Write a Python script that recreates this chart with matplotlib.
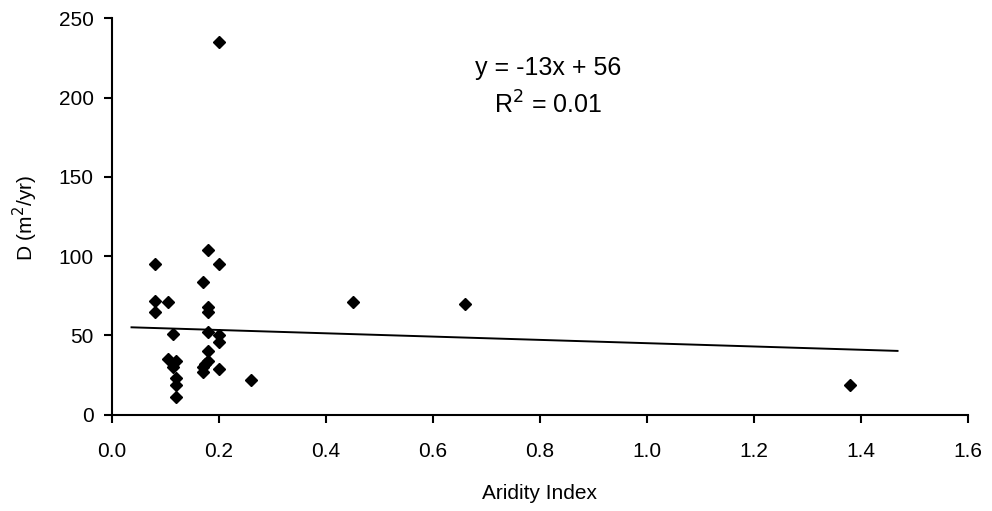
import matplotlib
matplotlib.use("Agg")
import matplotlib.pyplot as plt
import numpy as np

plt.rcParams['font.family'] = ['Liberation Sans', 'DejaVu Sans']

aridity = [0.08, 0.18, 0.20, 0.17, 0.08, 0.105, 0.08, 0.18, 0.18, 0.115,
           0.18, 0.20, 0.20, 0.105, 0.12, 0.115, 0.12, 0.12, 0.12, 0.18,
           0.18, 0.17, 0.17, 0.175, 0.20, 0.26, 0.20, 0.45, 0.66, 1.38]
D_vals = [95, 104, 95, 84, 72, 71, 65, 68, 65, 51,
          52, 50, 46, 35, 34, 30, 23, 19, 11, 40,
          34, 30, 27, 32, 29, 22, 235, 71, 70, 19]

trend_slope = -10.4
trend_intercept = 55.5
trend_x = [0.037, 1.468]

eq_text = "y = -13x + 56"
r2_text = "R$^2$ = 0.01"

xticks = [0.0, 0.2, 0.4, 0.6, 0.8, 1.0, 1.2, 1.4, 1.6]
yticks = [0, 50, 100, 150, 200, 250]

fig = plt.figure(figsize=(9.92, 5.11), dpi=100)
ax = fig.add_axes([0.1126, 0.1885, 0.976 - 0.1126, 0.964 - 0.1885])

ax.plot(aridity, D_vals, linestyle='none', marker='D', markersize=6.6,
        color='black', zorder=3)
tx = np.array(trend_x)
ax.plot(tx, trend_slope * tx + trend_intercept, color='black', lw=1.4, zorder=2)

ax.set_xlim(0, 1.6)
ax.set_ylim(0, 250)
ax.set_xticks(xticks)
ax.set_xticklabels([f"{v:.1f}" for v in xticks])
ax.set_yticks(yticks)
ax.set_yticklabels([str(v) for v in yticks])

for s in ['top', 'right']:
    ax.spines[s].set_visible(False)
for s in ['left', 'bottom']:
    ax.spines[s].set_linewidth(1.5)
ax.tick_params(direction='out', length=6, width=1.5, labelsize=15)
ax.tick_params(axis='y', pad=7)
ax.tick_params(axis='x', pad=14)

fig.text(25 / 992, 1 - 218 / 511, "D (m$^2$/yr)", rotation=90,
         ha='center', va='center', fontsize=15)
fig.text(540 / 992, 1 - 493 / 511, "Aridity Index",
         ha='center', va='center', fontsize=15)

ax.text(0.815, 218.7, eq_text, ha='center', va='center', fontsize=18)
ax.text(0.815, 195.3, r2_text, ha='center', va='center', fontsize=18)

fig.savefig("out.png", dpi=100)
